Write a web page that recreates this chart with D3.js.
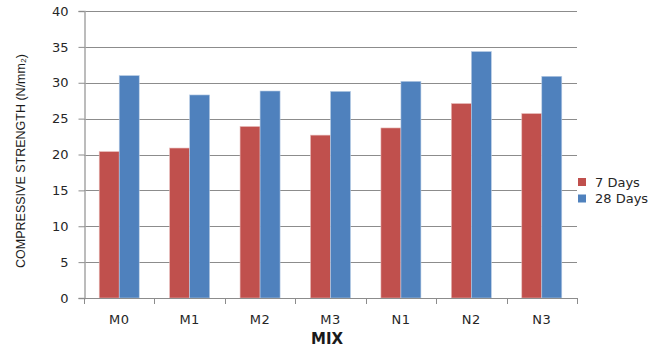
<!DOCTYPE html>
<html><head><meta charset="utf-8">
<script src="https://cdn.jsdelivr.net/npm/d3@7"></script>
<style>body{margin:0;background:#fff}svg{display:block}</style>
</head><body>
<script>
const categories = ["M0","M1","M2","M3","N1","N2","N3"];
const days7 = [20.4, 20.9, 23.9, 22.7, 23.7, 27.1, 25.7];
const days28 = [31.0, 28.3, 28.85, 28.8, 30.2, 34.35, 30.9];
const seriesNames = ["7 Days","28 Days"];
const yTicks = [0,5,10,15,20,25,30,35,40];
const colors = ["#C0504D","#4F81BD"];

const W=665,H=347;
const svg=d3.select("body").append("svg").attr("width",W).attr("height",H);
const x=d3.scaleBand().domain(categories).range([84,577]);
const y=d3.scaleLinear().domain([0,40]).range([298,11]);
const barW=20;

// gridlines
svg.append("g").selectAll("line").data(yTicks.filter(t=>t>0)).join("line")
  .attr("x1",84).attr("x2",577).attr("y1",d=>Math.round(y(d))+0.5).attr("y2",d=>Math.round(y(d))+0.5)
  .attr("stroke","#8c8c8c").attr("stroke-width",1);

// y axis
const ya=svg.append("g").attr("transform","translate(84.5,0)")
  .call(d3.axisLeft(y).tickValues(yTicks).tickSize(6).tickPadding(10).tickFormat(d3.format("d")));
ya.select(".domain").attr("stroke","#a6a6a6").attr("stroke-width",1.5);
ya.selectAll(".tick line").attr("stroke","#8c8c8c");
ya.selectAll(".tick text").attr("font-family","DejaVu Sans").attr("font-size",13).attr("fill","#262626");

// bars
const vals=[days7,days28];
vals.forEach((arr,si)=>{
  svg.append("g").selectAll("rect").data(arr).join("rect")
    .attr("x",(d,i)=>x(categories[i])+x.bandwidth()/2-barW+si*barW)
    .attr("y",d=>y(d)).attr("width",barW).attr("height",d=>y(0)-y(d))
    .attr("fill",colors[si]).attr("stroke",si?"#b9cde5":"#e6b9b8").attr("stroke-width",0.6);
});

// x axis
const xa=svg.append("g").attr("transform","translate(0,298.5)")
  .call(d3.axisBottom(x).tickSize(0).tickPadding(16));
xa.select(".domain").attr("stroke","#8c8c8c").attr("d","M84,0H577");
xa.selectAll(".tick text").attr("font-family","DejaVu Sans").attr("font-size",13).attr("fill","#262626").attr("letter-spacing","0.5");
svg.append("g").selectAll("line").data(d3.range(categories.length+1)).join("line")
  .attr("x1",i=>Math.round(84+i*x.step())+0.5).attr("x2",i=>Math.round(84+i*x.step())+0.5)
  .attr("y1",298).attr("y2",304).attr("stroke","#8c8c8c");

// axis titles
svg.append("text").attr("x",327).attr("y",344).attr("text-anchor","middle")
  .attr("font-family","DejaVu Sans").attr("font-weight","bold").attr("font-size",15).attr("fill","#1a1a1a").text("MIX");
svg.append("text").attr("transform","translate(25,161) rotate(-90)").attr("text-anchor","middle")
  .attr("font-family","Liberation Sans").attr("font-size",12.5).attr("fill","#1a1a1a")
  .text("COMPRESSIVE STRENGTH  (N/mm\u2082)");

// legend
const lg=svg.append("g").selectAll("g").data(seriesNames).join("g")
  .attr("transform",(d,i)=>`translate(578,${178+i*16.5})`);
lg.append("rect").attr("width",8).attr("height",8).attr("fill",(d,i)=>colors[i]);
lg.append("text").attr("x",17).attr("y",8.5).attr("font-family","DejaVu Sans").attr("font-size",13).attr("fill","#262626").text(d=>d);
</script>
</body></html>
